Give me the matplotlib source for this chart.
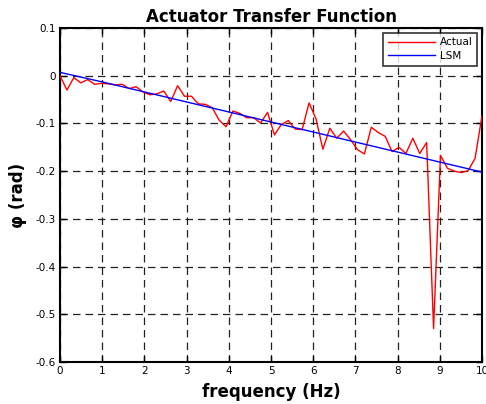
import numpy as np
import matplotlib
matplotlib.use("Agg")
import matplotlib.pyplot as plt

# ---- data ----
n_points = 62
freq_step = 10.0 / 61  # Hz between samples
actual_phase = [
    0.000, -0.030, -0.004, -0.015, -0.008, -0.018, -0.016, -0.017, -0.019, -0.018,
    -0.027, -0.023, -0.034, -0.040, -0.038, -0.032, -0.054, -0.021, -0.043, -0.043,
    -0.059, -0.060, -0.067, -0.093, -0.107, -0.074, -0.079, -0.088, -0.088, -0.099,
    -0.077, -0.124, -0.102, -0.094, -0.112, -0.113, -0.057, -0.090, -0.154, -0.110,
    -0.131, -0.116, -0.134, -0.155, -0.164, -0.108, -0.119, -0.127, -0.159, -0.150,
    -0.163, -0.131, -0.163, -0.140, -0.530, -0.167, -0.194, -0.200, -0.203, -0.199,
    -0.173, -0.084,
]
lsm_freq = [0, 1, 2, 3, 4, 5, 6, 7, 8, 9, 10]
lsm_phase = [0.007, -0.013, -0.034, -0.055, -0.076, -0.097, -0.118, -0.139, -0.160, -0.181, -0.202]

xticks = [0, 1, 2, 3, 4, 5, 6, 7, 8, 9, 10]
xtick_labels = ["0", "1", "2", "3", "4", "5", "6", "7", "8", "9", "10"]
yticks = [0.1, 0.0, -0.1, -0.2, -0.3, -0.4, -0.5, -0.6]
ytick_labels = ["0.1", "0", "-0.1", "-0.2", "-0.3", "-0.4", "-0.5", "-0.6"]

freq = np.arange(n_points) * freq_step

fig = plt.figure(figsize=(4.86, 4.04), dpi=100)
ax = fig.add_axes([60 / 486, 1 - 362 / 404, 422 / 486, 334 / 404])

ax.plot(freq, actual_phase, color="#ff0000", lw=1.0, label="Actual", zorder=3)
ax.plot(lsm_freq, lsm_phase, color="#0000ff", lw=1.0, label="LSM", zorder=3)

ax.set_xlim(0, 10)
ax.set_ylim(-0.6, 0.1)
ax.set_xticks(xticks)
ax.set_xticklabels(xtick_labels)
ax.set_yticks(yticks)
ax.set_yticklabels(ytick_labels)
ax.tick_params(direction="in", length=4, width=1, top=True, right=True,
               labelsize=7.5, pad=3)

ax.grid(True, color="#222222", linestyle=(0, (6, 4)), linewidth=0.9)
for s in ax.spines.values():
    s.set_linewidth(1.5)

ax.set_title("Actuator Transfer Function", fontsize=12, fontweight="bold", pad=4)
ax.set_xlabel("frequency (Hz)", fontsize=12, fontweight="bold", labelpad=5)
ax.set_ylabel("\u03c6 (rad)", fontsize=12, fontweight="bold", labelpad=6)

leg = ax.legend(loc="upper right", fontsize=7.5, frameon=True, fancybox=False,
                edgecolor="black", borderaxespad=0.45, handlelength=4.5,
                borderpad=0.45, labelspacing=0.35, handletextpad=0.5)
leg.get_frame().set_linewidth(1.2)
leg.set_zorder(5)

fig.savefig("out.png", dpi=100)
